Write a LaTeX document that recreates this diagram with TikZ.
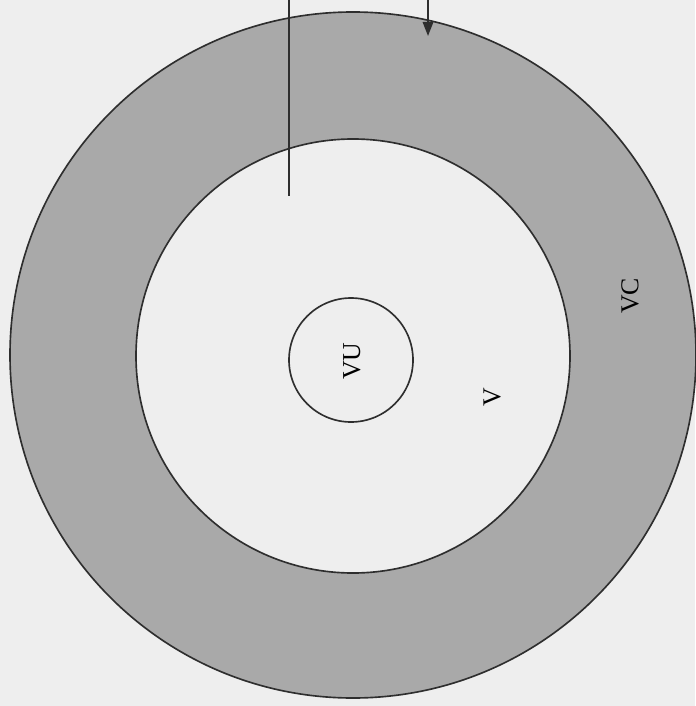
\documentclass[tikz,border=0pt]{standalone}
\usepackage{fontspec}
\setmainfont{Liberation Serif}
\usetikzlibrary{arrows.meta}
\definecolor{paper}{HTML}{EEEEEE}
\definecolor{ringgray}{HTML}{A9A9A9}
\definecolor{inkgray}{HTML}{2E2E2E}

\begin{document}
\begin{tikzpicture}[x=0.03cm,y=-0.03cm,
    rim/.style={draw=inkgray, line width=1.4pt},
    lbl/.style={rotate=90, inner sep=0pt, font=\fontsize{22}{26}\selectfont}]
            % Page
            \fill[paper] (0,0) rectangle (695,706);
            \useasboundingbox (0,0) rectangle (695,706);

            % Outer ring
            \fill[ringgray, rim] (353,355) circle (343);
            \fill[paper, rim] (353,356) circle (217);
            \node[lbl] (vc) at (630,296) {VC};

            % Middle zone
            \node[lbl] (v) at (492,397) {V};

            % Inner circle
            \draw[rim] (351,360) circle (62);
            \node[lbl] (vu) at (352,361) {VU};

            % Lines from the top
            \coordinate (intop) at (289,0);
            \coordinate (inend) at (289,196);
            \coordinate (outtop) at (428,0);
            \coordinate (outend) at (428,36);
            \draw[inkgray, line width=1.4pt] (intop) -- (inend);
            \draw[inkgray, line width=1.4pt, -{Triangle[length=12pt,width=9pt]}] (outtop) -- (outend);
        \end{tikzpicture}
\end{document}
